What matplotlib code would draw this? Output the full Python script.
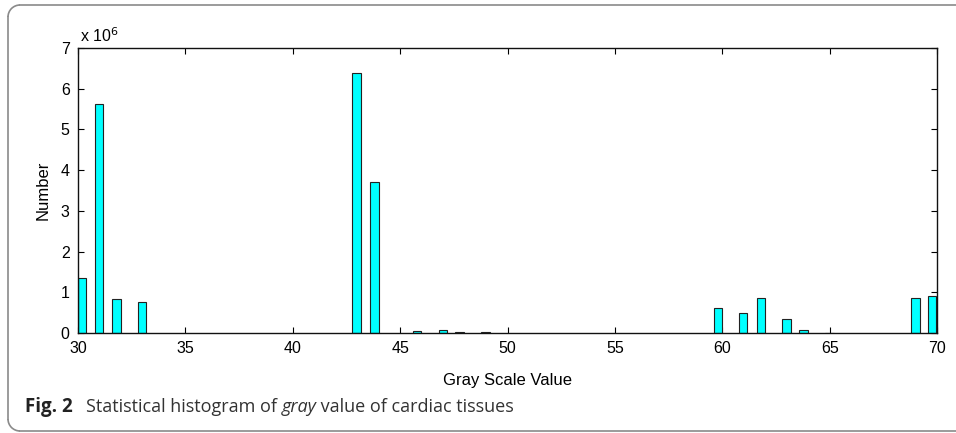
import numpy as np
import matplotlib
matplotlib.use('Agg')
import matplotlib.pyplot as plt
from matplotlib.lines import Line2D
from matplotlib.patches import Arc
from matplotlib.ticker import FuncFormatter

# bin centres (gray value) and pixel counts
gray_values = [30.2, 30.99, 31.79, 32.98, 42.97, 43.8, 45.78, 47.0, 47.76,
               48.97, 59.79, 60.98, 61.79, 63.0, 63.79, 65.0, 69.0, 69.76]
counts = [1.36e6, 5.63e6, 0.845e6, 0.75e6, 6.39e6, 3.71e6, 0.05e6, 0.075e6,
          0.03e6, 0.025e6, 0.62e6, 0.48e6, 0.85e6, 0.34e6, 0.075e6, 0.01e6,
          0.87e6, 0.90e6]
x_ticks = [30, 35, 40, 45, 50, 55, 60, 65, 70]
y_ticks = [0, 1e6, 2e6, 3e6, 4e6, 5e6, 6e6, 7e6]

plt.rcParams['font.family'] = ['Liberation Sans', 'DejaVu Sans']

W, H = 956, 433
fig = plt.figure(figsize=(W / 100, H / 100), dpi=100)
ax = fig.add_axes([78 / W, 1 - 333 / H, (937 - 78) / W, (333 - 48) / H])

ax.bar(gray_values, counts, width=0.39, color='#00FFFF', edgecolor='#222222',
       linewidth=0.8, zorder=2)

ax.set_xlim(30, 70)
ax.set_ylim(0, 7e6)
ax.set_xticks(x_ticks)
ax.set_yticks(y_ticks)
ax.yaxis.set_major_formatter(FuncFormatter(lambda v, p: '%g' % (v / 1e6)))
ax.tick_params(direction='in', top=True, right=True, labelsize=11.5,
               length=4, width=0.8, colors='black', pad=6)
for s in ax.spines.values():
    s.set_linewidth(1.0)
    s.set_color('#111111')

ax.set_xlabel('Gray Scale Value', fontsize=12, labelpad=12)
ax.set_ylabel('Number', fontsize=12, labelpad=7)
ax.text(0.002, 1.012, r'x 10$^{6}$', transform=ax.transAxes, fontsize=11.5,
        ha='left', va='bottom')

# caption: bold label, then plain text with one italic word
cap_y = 1 - 407 / H
fig.text(25 / W, cap_y, 'Fig. 2', fontsize=13.5, fontweight='bold',
         family='Open Sans', color='#222222', va='center', ha='left')
parts = [('Statistical histogram of ', 'normal'), ('gray', 'italic'),
         (' value of cardiac tissues', 'normal')]
fig.canvas.draw()
r = fig.canvas.get_renderer()
x0 = 86
for txt, st in parts:
    t = fig.text(x0 / W, cap_y, txt, fontsize=13, style=st,
                 family='Open Sans', color='#333333', va='center', ha='left')
    x0 = t.get_window_extent(r).x1

# frame: top, left and bottom edges with rounded left corners (pixel coords)
fc = '#8a8a8a'
rad = 12
left, top, bot = 8, H - 5, 2
for xs, ys in [([left + rad, W], [top, top]),
               ([left + rad, W], [bot, bot]),
               ([left, left], [bot + rad, top - rad])]:
    fig.add_artist(Line2D([x / W for x in xs], [y / H for y in ys],
                          transform=fig.transFigure, color=fc, linewidth=1.2))
fig.add_artist(Arc((left + rad, top - rad), 2 * rad, 2 * rad, theta1=90,
                   theta2=180, transform=None, color=fc, linewidth=1.2))
fig.add_artist(Arc((left + rad, bot + rad), 2 * rad, 2 * rad, theta1=180,
                   theta2=270, transform=None, color=fc, linewidth=1.2))

fig.savefig('out.png', dpi=100)
